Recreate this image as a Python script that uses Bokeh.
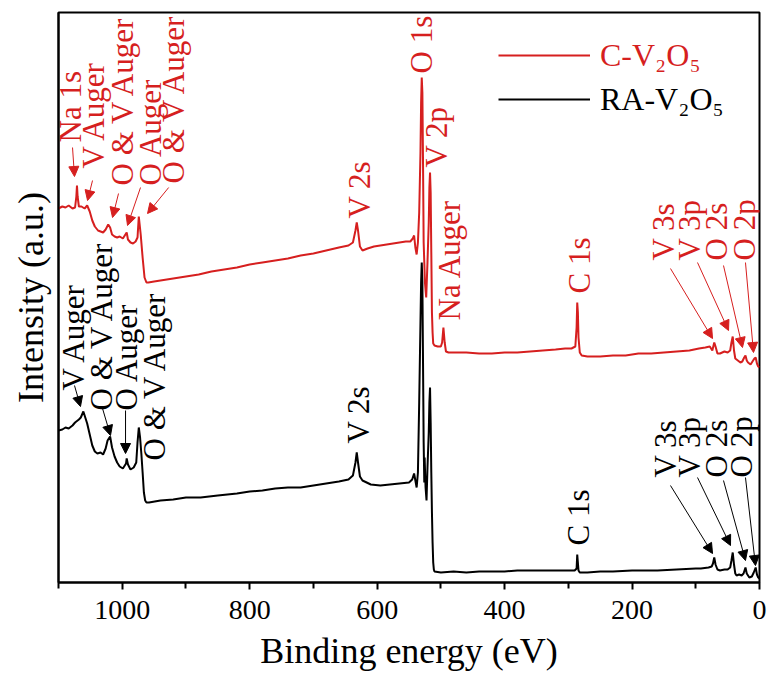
from bokeh.plotting import figure
from bokeh.models import (ColumnDataSource, Range1d, FixedTicker, Legend, LegendItem,
                          Arrow, NormalHead)
from bokeh.core.properties import value
from bokeh.embed import file_html
from bokeh.resources import INLINE
import math

RED = "#d61f1f"
BLACK = "#000000"
FONT = "Liberation Serif"

# ---------------- data (binding energy eV, intensity a.u.) ----------------
c_be = [1100, 1094, 1089, 1084, 1078, 1074, 1072, 1071, 1070, 1068, 1064, 1059, 1055, 1051,
        1047, 1043, 1038, 1034, 1030, 1026, 1022, 1019, 1016, 1012, 1008, 1004, 999, 996, 993,
        991, 987, 983, 979, 976, 974, 971, 968, 965, 962, 959, 950, 940, 920, 900, 880, 860,
        840, 820, 800, 780, 760, 740, 720, 700, 680, 660, 645, 638, 634, 632, 630, 627, 623,
        615, 605, 595, 585, 575, 565, 555, 548, 544, 542, 540, 538, 536, 534, 532, 531, 530,
        529, 528, 527, 525, 523, 521, 519, 518, 517, 516, 515, 514, 513, 512, 510, 505, 500,
        498, 496, 494, 492, 488, 480, 460, 440, 420, 400, 380, 360, 340, 320, 305, 295, 289,
        287, 286, 285, 284, 282, 279, 270, 250, 230, 210, 190, 170, 150, 130, 110, 95, 85, 78,
        74, 71, 69, 66, 62, 55, 50, 46, 44, 42, 40, 38, 34, 30, 27, 24, 22, 20, 18, 14, 11, 8,
        6, 4, 2, 0]
c_int = [374, 376, 375, 377, 374, 375, 386, 397, 386, 376, 376, 374, 377, 371,
         362, 356, 352, 351, 350, 353, 358, 355, 348, 346, 345, 346, 344, 347, 350,
         343, 340, 339, 341, 345, 366, 348, 325, 305, 300, 300, 301, 302, 304, 306, 308, 311,
         313, 315, 318, 320, 322, 324, 327, 329, 332, 335, 337, 340, 352, 360, 352, 336, 332,
         334, 336, 337, 338, 339, 340, 341, 341, 344, 347, 335, 328, 340, 370, 430, 480, 505,
         490, 420, 340, 300, 285, 320, 360, 395, 410, 390, 330, 270, 250, 239, 237, 236, 236,
         240, 255, 240, 231, 230, 230, 230, 229, 229, 230, 230, 231, 232, 233, 234, 234, 236,
         255, 280, 270, 245, 230, 227, 226, 226, 227, 227, 229, 229, 230, 231, 232, 234, 235, 236,
         232, 240, 236, 229, 229, 231, 230, 232, 240, 246, 232, 224, 222, 220, 221, 225, 227, 222,
         220, 218, 221, 224, 225, 219, 216, 215]

ra_be = [1100, 1094, 1089, 1084, 1078, 1074, 1068, 1065, 1061, 1058, 1055, 1051, 1047, 1043,
         1039, 1034, 1030, 1026, 1023, 1019, 1016, 1012, 1008, 1004, 999, 994, 993, 991, 987,
         982, 978, 976, 974, 972, 970, 968, 966, 964, 962, 958, 940, 920, 900, 877, 850, 820,
         800, 780, 760, 740, 720, 700, 680, 660, 645, 638, 634, 632, 630, 627, 623, 610, 595,
         580, 565, 550, 545, 542, 540, 538, 536, 534, 532, 531, 530, 529, 528, 527, 526, 525.5,
         524, 522.5, 521, 519, 518, 517, 516, 515, 514, 513, 512, 511, 510, 500, 480, 460, 440,
         420, 400, 380, 360, 340, 320, 300, 290, 287, 286, 285, 284, 282, 270, 250, 230, 200,
         187, 160, 130, 100, 92, 80, 75, 73, 71, 69, 66, 62, 55, 50, 46, 44, 42, 40, 38, 36, 32,
         28, 25, 22, 20, 16, 12, 9, 6, 4, 2, 0]
ra_int = [152, 153, 155, 154, 157, 160, 163, 165, 171, 165, 159, 148, 137, 131,
          129, 130, 128, 134, 142, 146, 135, 126, 120, 116, 114, 119, 124, 118, 113,
          115, 120, 140, 155, 145, 129, 110, 90, 82, 80, 80, 82, 83, 85, 85, 87, 89,
          91, 92, 94, 95, 95, 97, 99, 101, 103, 107, 120, 130, 120, 106, 102, 98, 97,
          98, 99, 100, 103, 109, 102, 95, 110, 180, 260, 300, 320, 300, 220, 140, 100, 125,
          95, 82, 115, 150, 180, 195, 160, 110, 70, 40, 20, 13, 11, 10, 11, 10, 11,
          11, 11, 12, 12, 12, 12, 12, 12, 14, 28, 20, 12, 10, 10, 11, 11, 12,
          12, 12, 13, 14, 14, 15, 16, 19, 25, 18, 13, 12, 13, 13, 15, 22, 30, 18, 9, 7, 8,
          7, 9, 15, 9, 5, 6, 10, 15, 8, 5, 4]

series_names = ["C-V\u2082O\u2085", "RA-V\u2082O\u2085"]

# peak annotations
c_lab_text = ["Na 1s", "V Auger", "O & V Auger", "O Auger", "O & V Auger", "V 2s", "O 1s",
              "V 2p", "Na Auger", "C 1s", "V 3s", "V 3p", "O 2s", "O 2p"]
c_lab_x = [1081, 1045, 999.5, 955.6, 919.5, 627.6, 530.4, 506.8, 486.4, 282.4, 150.6, 109.8, 67.5, 23.5]
c_lab_y = [440, 414, 397, 397, 399, 364, 509, 415, 262, 289, 322, 322, 322, 322]

ra_lab_text = ["V Auger", "O & V Auger", "O Auger", "O & V Auger", "V 2s", "C 1s",
               "V 3s", "V 3p", "O 2s", "O 2p"]
ra_lab_x = [1076.4, 1032.5, 993.3, 949.3, 629.2, 284, 147.5, 109.8, 67.5, 28.2]
ra_lab_y = [192, 172, 172, 122, 139, 37, 105, 105, 105, 105]

c_arr_x0 = [1078, 1046.6, 1005.8, 971.3, 927.1, 139.7, 97.3, 56.5, 22.0]
c_arr_y0 = [435, 402, 389, 395, 395, 314, 320, 317, 320]
c_arr_x1 = [1074.9, 1054.4, 1015.2, 991.7, 960.3, 73.7, 48.6, 26.7, 9.4]
c_arr_y1 = [406, 382, 365, 357, 369, 244, 252, 235, 230]

ra_arr_x0 = [1074.9, 1030.9, 994.8, 139.7, 97.3, 56.5, 22.0]
ra_arr_y0 = [197, 174, 172, 97, 105, 102, 105]
ra_arr_x1 = [1065.5, 1018.4, 994.8, 73.7, 45.5, 22.0, 6.3]
ra_arr_y1 = [176, 147, 129, 29, 37, 22, 17]

x_ticks = [0, 200, 400, 600, 800, 1000]
x_minor = [100, 300, 500, 700, 900, 1100]

# ---------------- figure ----------------
p = figure(width=771, height=681, output_backend="svg", toolbar_location=None,
           x_range=Range1d(1100, 0), y_range=Range1d(0, 570),
           min_border_left=58, min_border_right=12, min_border_top=12, min_border_bottom=99)
p.background_fill_color = "white"
p.border_fill_color = "white"
p.outline_line_color = "black"
p.outline_line_width = 2
p.grid.visible = False

xa = p.xaxis[0]
xa.ticker = FixedTicker(ticks=x_ticks, minor_ticks=x_minor)
xa.axis_label = "Binding energy (eV)"
xa.axis_label_text_font = FONT
xa.axis_label_text_font_size = "36px"
xa.axis_label_text_font_style = "normal"
xa.axis_label_text_color = "black"
xa.axis_label_standoff = 9
xa.major_label_text_font = FONT
xa.major_label_text_font_size = "28px"
xa.major_label_text_color = "black"
xa.major_label_standoff = 11
xa.axis_line_width = 2
xa.major_tick_line_width = 2
xa.minor_tick_line_width = 2
xa.major_tick_in = 0
xa.major_tick_out = 7
xa.minor_tick_in = 0
xa.minor_tick_out = 6

ya = p.yaxis[0]
ya.ticker = FixedTicker(ticks=[])
ya.axis_label = "Intensity (a.u.)"
ya.axis_label_text_font = FONT
ya.axis_label_text_font_size = "36px"
ya.axis_label_text_font_style = "normal"
ya.axis_label_text_color = "black"
ya.axis_label_standoff = 8
ya.axis_line_width = 2
ya.major_label_text_font_size = "0px"

r_c = p.line(c_be, c_int, line_color=RED, line_width=2)
r_ra = p.line(ra_be, ra_int, line_color=BLACK, line_width=2)

# labels
src_c = ColumnDataSource(dict(x=c_lab_x, y=c_lab_y, t=c_lab_text))
src_ra = ColumnDataSource(dict(x=ra_lab_x, y=ra_lab_y, t=ra_lab_text))
for src, col in [(src_c, RED), (src_ra, BLACK)]:
    p.text(x="x", y="y", text="t", source=src, angle=math.pi / 2,
           text_font=value(FONT), text_font_size="31px", text_color=col,
           text_align="left", text_baseline="middle")

# arrows
for xs, ys, xe, ye, col in [(c_arr_x0, c_arr_y0, c_arr_x1, c_arr_y1, RED),
                            (ra_arr_x0, ra_arr_y0, ra_arr_x1, ra_arr_y1, BLACK)]:
    asrc = ColumnDataSource(dict(xs=xs, ys=ys, xe=xe, ye=ye))
    p.add_layout(Arrow(end=NormalHead(size=10, fill_color=col, line_color=col, line_width=1),
                       x_start="xs", y_start="ys", x_end="xe", y_end="ye", source=asrc,
                       line_color=col, line_width=1))

# legends (one per row so each label keeps its colour)
for item_r, name, col, loc in [(r_c, series_names[0], RED, (440, 507)),
                               (r_ra, series_names[1], BLACK, (440, 463))]:
    lg = Legend(items=[LegendItem(label=name, renderers=[item_r])], location=loc,
                label_text_font=FONT, label_text_font_size="32px", label_text_color=col,
                glyph_width=92, glyph_height=40, label_height=40, label_standoff=10,
                padding=0, margin=0, spacing=0, border_line_color=None,
                background_fill_alpha=0)
    p.add_layout(lg)

open("out.html", "w").write(file_html(p, INLINE))
